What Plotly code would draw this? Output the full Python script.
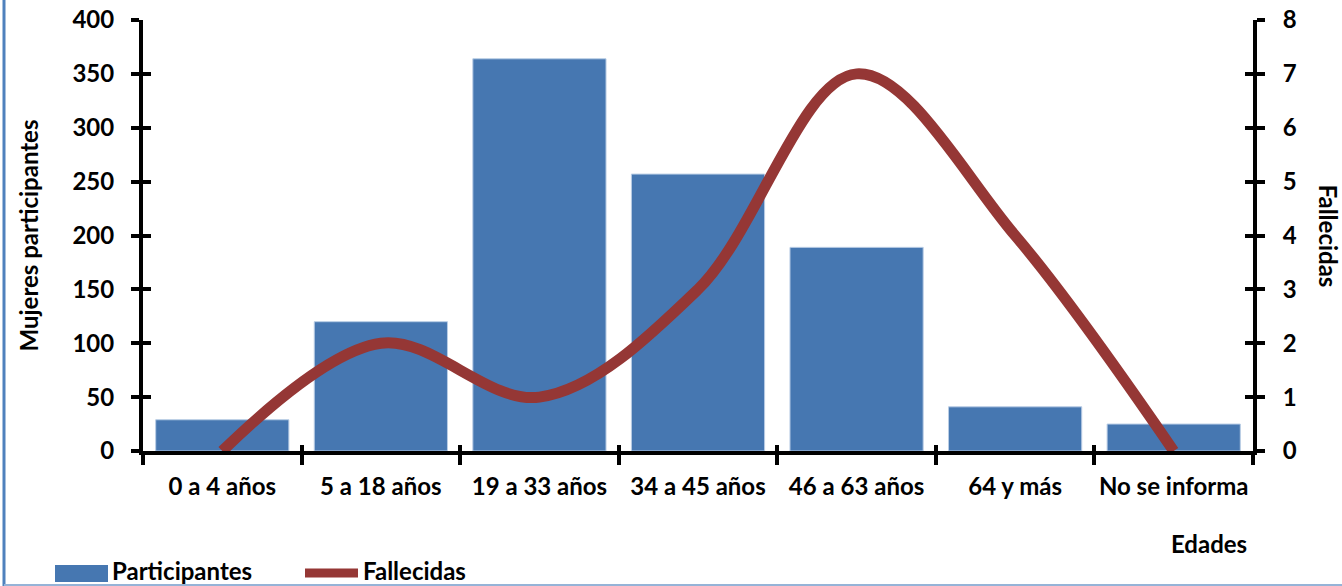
import plotly.graph_objects as go

categorias = ["0 a 4 años", "5 a 18 años", "19 a 33 años", "34 a 45 años",
              "46 a 63 años", "64 y más", "No se informa"]
participantes = [29, 120, 364, 257, 189, 41, 25]
fallecidas = [0, 2, 1, 3, 7, 4, 0]
series_nombres = ["Participantes", "Fallecidas"]

FONT = "Lato"
FS = 24
BAR_COLOR = "#4677B1"
LINE_COLOR = "#953735"

W, H = 1342, 586
L, R, T, B = 143, 89, 20, 135
PW, PH = W - L - R, H - T - B


def px(x):
    return (x - L) / PW


def py(y):
    return (H - B - y) / PH


bold = dict(family=FONT, size=FS, color="black", weight="bold")

fig = go.Figure()
fig.add_trace(go.Bar(
    x=categorias, y=participantes, name=series_nombres[0],
    marker=dict(color=BAR_COLOR, line=dict(color="#B9CDE5", width=1)),
    yaxis="y", showlegend=False,
))
fig.add_trace(go.Scatter(
    x=categorias, y=fallecidas, name=series_nombres[1], mode="lines",
    line=dict(color=LINE_COLOR, width=11, shape="spline", smoothing=1.0),
    yaxis="y2", showlegend=False,
))
# empty helper traces so the inner halves of the crossing ticks get drawn
fig.add_trace(go.Scatter(x=categorias, y=[None] * len(categorias), xaxis="x2", yaxis="y3",
                         mode="lines", showlegend=False, hoverinfo="skip"))
fig.add_trace(go.Scatter(x=categorias, y=[None] * len(categorias), xaxis="x2", yaxis="y4",
                         mode="lines", showlegend=False, hoverinfo="skip"))

axis_common = dict(showline=True, linecolor="black", linewidth=4,
                   ticks="outside", tickwidth=4, tickcolor="black",
                   showgrid=False, zeroline=False, automargin=False,
                   tickfont=bold)
inner = dict(showline=False, ticks="inside", tickwidth=4, tickcolor="black",
             showgrid=False, zeroline=False, automargin=False,
             showticklabels=False)

fig.update_layout(
    width=W, height=H,
    margin=dict(l=L, r=R, t=T, b=B, pad=0),
    paper_bgcolor="white", plot_bgcolor="white",
    font=bold,
    bargap=0.16,
    showlegend=False,
    xaxis=dict(type="category", tickson="boundaries", ticklen=10, tickangle=0,
               ticklabelstandoff=11, range=[-0.5, 6.5], **axis_common),
    xaxis2=dict(type="category", tickson="boundaries", ticklen=6, overlaying="x",
                anchor="y", side="bottom", range=[-0.5, 6.5], **inner),
    yaxis=dict(range=[0, 400], dtick=50, ticklen=8, ticklabelstandoff=12,
               **axis_common),
    yaxis2=dict(range=[0, 8], dtick=1, overlaying="y", side="right",
                ticklen=8, ticklabelstandoff=13, **axis_common),
    yaxis3=dict(range=[0, 400], dtick=50, overlaying="y", side="left",
                anchor="x", ticklen=8, **inner),
    yaxis4=dict(range=[0, 8], dtick=1, overlaying="y", side="right",
                anchor="x", ticklen=8, **inner),
    annotations=[
        dict(text="Mujeres participantes", xref="paper", yref="paper",
             x=px(28), y=0.5, textangle=-90, showarrow=False,
             xanchor="center", yanchor="middle", font=bold),
        dict(text="Fallecidas", xref="paper", yref="paper",
             x=px(1328), y=0.5, textangle=90, showarrow=False,
             xanchor="center", yanchor="middle", font=bold),
        dict(text="Edades", xref="paper", yref="paper",
             x=px(1209), y=py(543), showarrow=False,
             xanchor="center", yanchor="middle", font=bold),
        # legend labels
        dict(text=series_nombres[0], xref="paper", yref="paper",
             x=px(110), y=py(570), showarrow=False,
             xanchor="left", yanchor="middle", font=bold),
        dict(text=series_nombres[1], xref="paper", yref="paper",
             x=px(361), y=py(570), showarrow=False,
             xanchor="left", yanchor="middle", font=bold),
    ],
    shapes=[
        # chart frame (left and bottom)
        dict(type="line", xref="paper", yref="paper",
             x0=px(4), x1=px(4), y0=py(0), y1=py(586),
             line=dict(color="#4F81BD", width=3)),
        dict(type="line", xref="paper", yref="paper",
             x0=px(4), x1=px(1342), y0=py(585), y1=py(585),
             line=dict(color="#95B3D7", width=2)),
        # legend symbols
        dict(type="rect", xref="paper", yref="paper",
             x0=px(55), x1=px(108), y0=py(565), y1=py(582),
             line=dict(width=0), fillcolor=BAR_COLOR),
        dict(type="line", xref="paper", yref="paper",
             x0=px(305), x1=px(358), y0=py(573), y1=py(573),
             line=dict(color=LINE_COLOR, width=9)),
    ],
)

fig.write_html("out.html", config={"displayModeBar": False},
               post_script="document.body.style.margin='0';document.body.style.overflow='hidden';")
